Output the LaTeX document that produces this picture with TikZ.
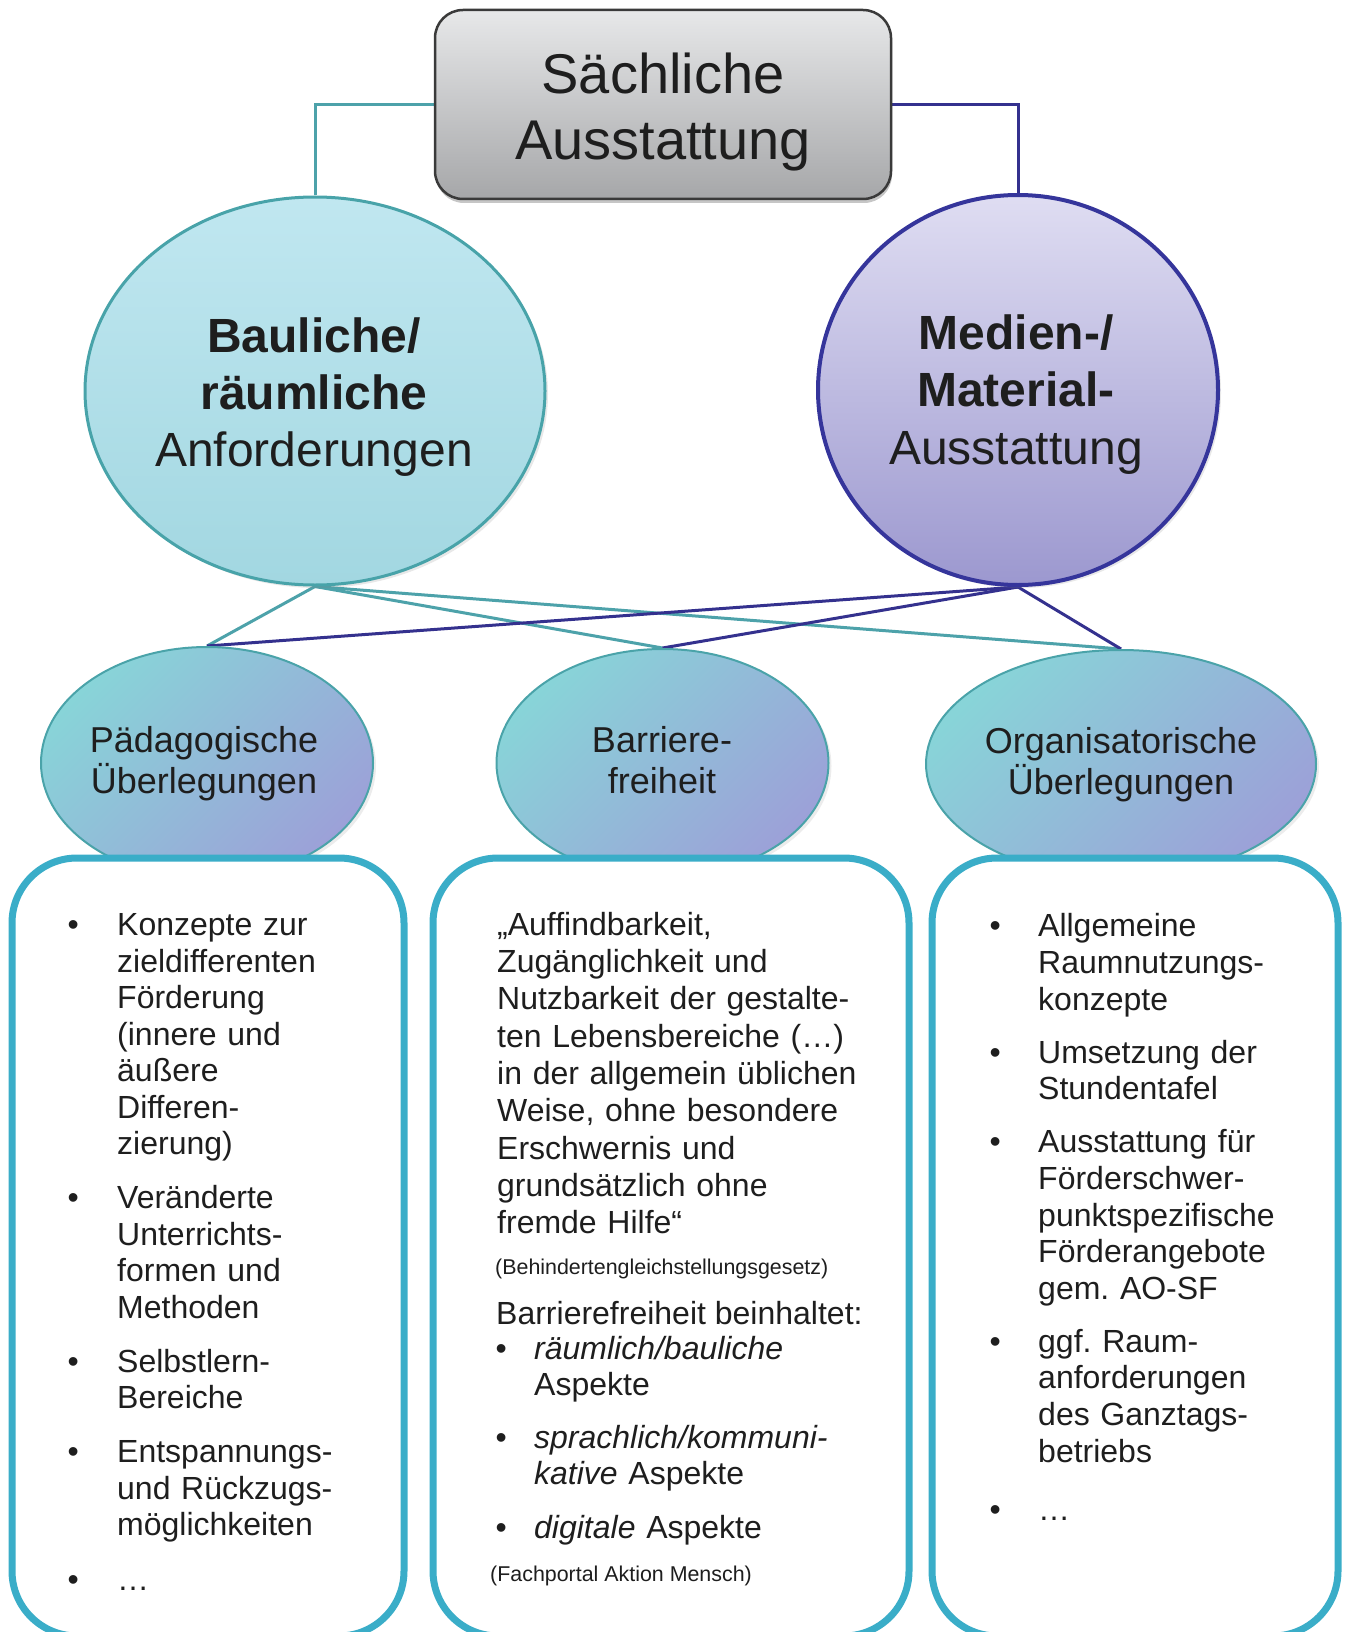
\documentclass[tikz,border=0pt]{standalone}
\usepackage{fontspec}
\setmainfont{Liberation Sans}
\usetikzlibrary{shapes.geometric,shadows,backgrounds}
\frenchspacing
\definecolor{tealln}{HTML}{4DA2AA}
\definecolor{purpln}{HTML}{34318E}
\definecolor{bigLt}{HTML}{C0E7F0}
\definecolor{bigLb}{HTML}{A2D7E1}
\definecolor{bigLd}{HTML}{48A3A9}
\definecolor{bigRt}{HTML}{DFDDF2}
\definecolor{bigRb}{HTML}{9C98CF}
\definecolor{bigRd}{HTML}{35359B}
\definecolor{smT}{HTML}{88D4D8}
\definecolor{smB}{HTML}{9CA1D8}
\definecolor{smD}{HTML}{4AA3A9}
\definecolor{boxd}{HTML}{3AADC8}
\definecolor{topT}{HTML}{E7E8E9}
\definecolor{topB}{HTML}{A6A7A9}
\definecolor{topD}{HTML}{3A3A3A}
\definecolor{txt}{HTML}{1E1E1E}
\newcommand\bitem[2]{\par\noindent\llap{•\hspace{#1}}#2\par}
\newcommand\tstrut[1]{\rule{0pt}{#1}}
\tikzset{
  conn/.style={line width=3pt},
  tln/.style={conn, draw=tealln},
  pln/.style={conn, draw=purpln},
  topbox/.style={rectangle, rounded corners=28pt, draw=topD, line width=2.5pt,
    top color=topT, bottom color=topB, minimum width=456pt, minimum height=189pt,
    inner sep=0, drop shadow={opacity=0.45, shadow xshift=1pt, shadow yshift=-4pt}},
  bigL/.style={ellipse, draw=bigLd, line width=3pt, top color=bigLt, bottom color=bigLb,
    inner sep=0, minimum width=460pt, minimum height=388pt,
    drop shadow={opacity=0.18, shadow xshift=3pt, shadow yshift=-3pt}},
  bigR/.style={ellipse, draw=bigRd, line width=4pt, top color=bigRt, bottom color=bigRb,
    inner sep=0, minimum width=400pt, minimum height=390pt,
    drop shadow={opacity=0.18, shadow xshift=3pt, shadow yshift=-3pt}},
  small/.style={ellipse, draw=smD, line width=2pt, top color=smT, bottom color=smB,
    shading angle=45, inner sep=0,
    drop shadow={opacity=0.15, shadow xshift=3pt, shadow yshift=-3pt}},
  listbox/.style={rectangle, rounded corners=65pt, draw=boxd, line width=7pt,
    fill=white, inner sep=0},
  ctext/.style={inner sep=0, align=center, text=txt, anchor=north},
  ltext/.style={inner sep=0, align=left, text=txt, anchor=north west},
}
\begin{document}
\begin{tikzpicture}[x=1pt,y=-1pt]
\useasboundingbox (0,0) rectangle (1347,1632);
\clip (0,0) rectangle (1347,1632);

% shapes
\node[topbox] (top) at (663,104.5) {};
\node[bigL] (bl) at (315,391) {};
\node[bigR] (br) at (1018,390) {};
\node[small, minimum width=332pt, minimum height=232pt] (sl) at (207,763) {};
\node[small, minimum width=332pt, minimum height=228pt] (sm) at (662.5,763) {};
\node[small, minimum width=390pt, minimum height=228pt] (sr) at (1121,764) {};
\node[listbox, minimum width=392pt, minimum height=778pt] (lb) at (208,1247) {};
\node[listbox, minimum width=476pt, minimum height=778pt] (mb) at (671,1247) {};
\node[listbox, minimum width=406pt, minimum height=778pt] (rb) at (1135,1247) {};

% connectors
\begin{scope}[on background layer]
\draw[tln] (top.west) -| (bl.north);
\draw[pln] (top.east) -| (br.north);
\draw[tln] (bl.south) -- (sl.north);
\draw[tln] (bl.south) -- (sm.north);
\draw[tln] (bl.south) -- (sr.north);
\draw[pln] (br.south) -- (sl.north);
\draw[pln] (br.south) -- (sm.north);
\draw[pln] (br.south) -- (sr.north);
\end{scope}

% texts
\node[ctext, font=\fontsize{56}{66}\selectfont] (toptext) at (663,40)
  {\tstrut{53pt}Sächliche\\Ausstattung};
\node[ctext, font=\fontsize{48}{57}\selectfont] (bltext) at (314,306)
  {\tstrut{46pt}\textbf{Bauliche/}\\\textbf{räumliche}\\Anforderungen};
\node[ctext, font=\fontsize{48}{57.5}\selectfont] (brtext) at (1016,303)
  {\tstrut{46pt}\textbf{Medien-/}\\\textbf{Material-}\\Ausstattung};
\node[ctext, font=\fontsize{36}{41.5}\selectfont] (sltext) at (204,718)
  {\tstrut{34pt}Pädagogische\\Überlegungen};
\node[ctext, font=\fontsize{36}{41.5}\selectfont] (smtext) at (662,718)
  {\tstrut{34pt}Barriere-\\freiheit};
\node[ctext, font=\fontsize{36}{41.5}\selectfont] (srtext) at (1121,719)
  {\tstrut{34pt}Organisatorische\\Überlegungen};

% left list
\node[ltext, text width=285pt,
  font={\fontsize{32}{36.5}\selectfont\parindent=0pt\parskip=0pt}] (ll) at (117,899) {%
\bitem{38.4pt}{\tstrut{30pt}Konzepte zur\\zieldifferenten\\Förderung\\(innere und\\äußere\\Differen-\\zierung)}
\vspace{17.5pt}
\bitem{38.4pt}{Veränderte\\Unterrichts-\\formen und\\Methoden}
\vspace{17.5pt}
\bitem{38.4pt}{Selbstlern-\\Bereiche}
\vspace{17.5pt}
\bitem{38.4pt}{Entspannungs-\\und Rückzugs-\\möglichkeiten}
\vspace{18pt}
\bitem{38.4pt}{…}};

% middle texts
\node[ltext, text width=420pt,
  font={\fontsize{32}{37.3}\selectfont\parindent=0pt\parskip=0pt}] (mq) at (497,905) {%
\tstrut{30pt}„Auffindbarkeit,\\Zugänglichkeit und\\Nutzbarkeit der gestalte-\\ten Lebensbereiche (…)\\in der allgemein üblichen\\Weise, ohne besondere\\Erschwernis und\\grundsätzlich ohne\\fremde Hilfe“};
\node[ltext, font=\fontsize{21.4}{25}\selectfont] (ms1) at (495,1254)
  {\tstrut{20pt}(Behindertengleichstellungsgesetz)};
\node[ltext, font=\fontsize{32}{36}\selectfont] (mbt) at (496,1294)
  {\tstrut{30pt}Barrierefreiheit beinhaltet:};
\node[ltext, text width=370pt,
  font={\fontsize{32}{36}\selectfont\parindent=0pt\parskip=0pt}] (ml) at (534,1323) {%
\bitem{27.4pt}{\tstrut{30pt}\textit{räumlich/bauliche}\\Aspekte}
\vspace{17.5pt}
\bitem{27.4pt}{\textit{sprachlich/kommuni-}\\\textit{kative} Aspekte}
\vspace{17.5pt}
\bitem{27.4pt}{\textit{digitale} Aspekte}};
\node[ltext, font=\fontsize{21.4}{25}\selectfont] (ms2) at (490,1561)
  {\tstrut{20pt}(Fachportal Aktion Mensch)};

% right list
\node[ltext, text width=295pt,
  font={\fontsize{32}{36.6}\selectfont\parindent=0pt\parskip=0pt}] (rl) at (1038,900) {%
\bitem{37.4pt}{\tstrut{30pt}Allgemeine\\Raumnutzungs-\\konzepte}
\vspace{16.5pt}
\bitem{37.4pt}{Umsetzung der\\Stundentafel}
\vspace{16.5pt}
\bitem{37.4pt}{Ausstattung für\\Förderschwer-\\punktspezifische\\Förderangebote\\gem. AO-SF}
\vspace{16.5pt}
\bitem{37.4pt}{ggf. Raum-\\anforderungen\\des Ganztags-\\betriebs}
\vspace{21.5pt}
\bitem{37.4pt}{…}};
\end{tikzpicture}
\end{document}
